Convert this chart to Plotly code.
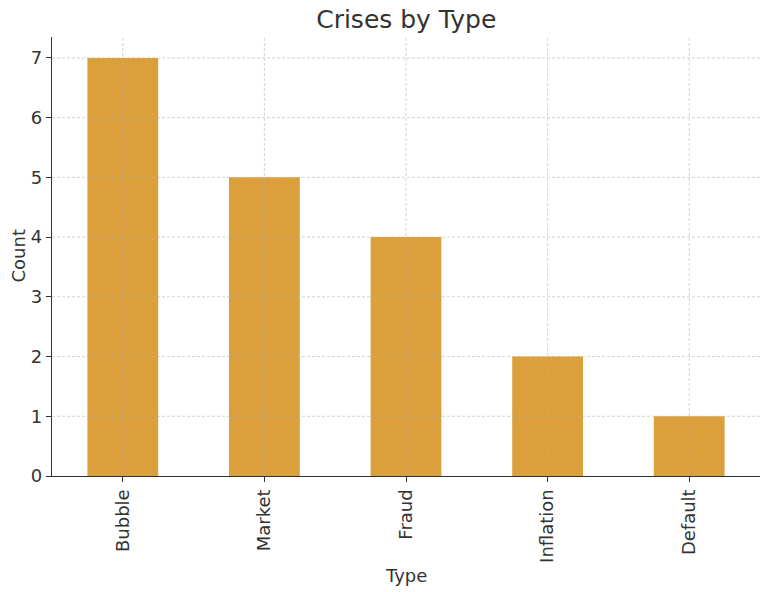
import plotly.graph_objects as go

categories = ["Bubble", "Market", "Fraud", "Inflation", "Default"]
counts = [7, 5, 4, 2, 1]
y_ticks = [0, 1, 2, 3, 4, 5, 6, 7]

bar_color = "#DBA03B"
text_color = "#333333"
font_family = "DejaVu Sans"

fig = go.Figure()
fig.add_trace(go.Bar(
    x=categories, y=counts, width=0.5,
    marker=dict(color=bar_color, line=dict(width=0)),
))

# grid lines drawn above bars (like the reference)
grid = dict(color="rgba(175,175,175,0.55)", width=1, dash="3px,2px")
shapes = []
for t in y_ticks[1:]:
    shapes.append(dict(type="line", xref="paper", yref="y", x0=0, x1=1, y0=t, y1=t,
                       line=grid, layer="above"))
for c in categories:
    shapes.append(dict(type="line", xref="x", yref="paper", x0=c, x1=c, y0=0, y1=1,
                       line=grid, layer="above"))

annotations = [
    dict(text="Type", xref="paper", yref="paper", x=0.5, y=0, xanchor="center",
         yanchor="middle", yshift=-99, showarrow=False, font=dict(size=18, color=text_color)),
    dict(text="Count", xref="paper", yref="paper", x=0, y=0.5, xanchor="center",
         yanchor="middle", xshift=-34, textangle=-90, showarrow=False,
         font=dict(size=18, color=text_color)),
]

# page has an 8px body margin, so the figure is sized to fit the window
fig.update_layout(
    width=760, height=584,
    margin=dict(l=44, r=8, t=29, b=116, autoexpand=False),
    paper_bgcolor="white", plot_bgcolor="white",
    font=dict(family=font_family, color=text_color, size=18),
    title=dict(text="Crises by Type", x=0.524, xanchor="center", y=0.981, yanchor="middle",
               font=dict(size=25, color=text_color)),
    showlegend=False,
    bargap=0.5,
    shapes=shapes,
    annotations=annotations,
    xaxis=dict(
        range=[-0.5, 4.5], tickangle=-90,
        showline=True, linecolor="#333333", linewidth=1.3,
        ticks="outside", ticklen=5, tickcolor="#333333",
        showgrid=False, zeroline=False, automargin=False,
        tickfont=dict(size=18),
    ),
    yaxis=dict(
        range=[0, 7.35], tickvals=y_ticks,
        showline=True, linecolor="#333333", linewidth=1.3,
        ticks="outside", ticklen=5, tickcolor="#333333",
        showgrid=False, zeroline=False, automargin=False,
        tickfont=dict(size=18),
    ),
)

fig.write_html("out.html")
